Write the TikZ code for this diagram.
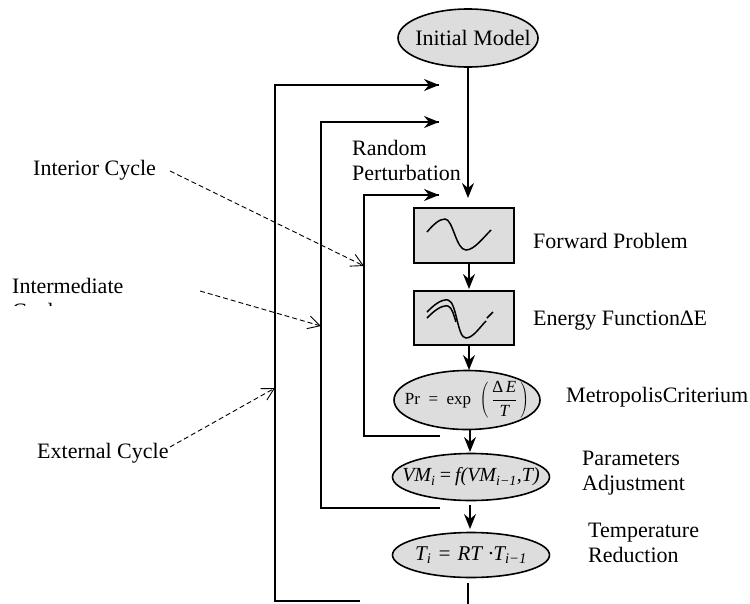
\documentclass[tikz,border=0pt]{standalone}
\usepackage{fontspec}
\setmainfont{Liberation Serif}
\usetikzlibrary{arrows.meta,shapes.geometric}
\newcommand\twoline[1]{\begin{tabular}[t]{@{}l@{}}#1\end{tabular}}
\newcommand\subi[1]{\textsubscript{\itshape #1}}
\definecolor{shade}{RGB}{221,221,221}
\begin{document}
\begin{tikzpicture}[x=1pt,y=-1pt,
  every node/.style={font=\fontsize{22}{25}\selectfont, inner sep=0pt},
  boxnode/.style={draw, line width=1.6pt, fill=shade, rectangle, minimum width=100pt, minimum height=55pt},
  ellnode/.style={draw, line width=1.6pt, fill=shade, ellipse, inner xsep=-25pt, inner ysep=-8pt},
  lbl/.style={anchor=base west},
  arr/.style={line width=1.8pt, -{Stealth[length=15pt,width=12pt,inset=5pt]}},
  loopline/.style={line width=1.8pt},
  dasharr/.style={line width=0.9pt, dash pattern=on 5pt off 3pt, -{Straight Barb[length=12pt,width=13pt]}},
  curve/.style={line width=1.5pt}]
\useasboundingbox (0,0) rectangle (750,603);
\fill[white] (0,0) rectangle (750,603);

% main column
\node[ellnode, minimum width=140pt, minimum height=58pt] (init) at (468,38) {\hspace*{10pt}Initial Model};
\node[boxnode] (fwd) at (464,235.5) {};
\node[boxnode, minimum height=54pt] (energy) at (464,318) {};
\node[ellnode, minimum width=146pt, minimum height=59pt] (metro) at (467,400)
  {\fontsize{17}{19}\selectfont Pr~~=~~exp~~$\displaystyle\left(\,\frac{\hbox{\fontsize{17}{19}\selectfont ∆\,\itshape E}}{\hbox{\fontsize{17}{19}\selectfont\itshape T}}\,\right)$};
\node[ellnode, minimum width=157pt, minimum height=47pt] (vm) at (471,477)
  {\fontsize{20}{22}\selectfont\itshape VM\subi{i}\kern3pt=\kern3pt f(VM\subi{i−1},T)};
\node[ellnode, minimum width=157pt, minimum height=45pt] (temp) at (471,555)
  {\fontsize{21}{23}\selectfont\itshape T\subi{i}\kern6pt=\kern6pt RT\kern6pt·T\subi{i−1}};

% curves in boxes
\draw[curve] (427,232) .. controls (433,225) and (439,219) .. (445,219)
  .. controls (453,219) and (456,250) .. (466,250) .. controls (474,250) and (483,238) .. (491,230);
\draw[curve] (427,312) .. controls (434,305) and (441,299) .. (448,300)
  .. controls (457,302) and (457,338) .. (466,338) .. controls (473,338) and (480,327) .. (486,321);
\draw[curve] (427,318) .. controls (434,311) and (441,305) .. (448,306)
  .. controls (452,307) and (454,316) .. (456,322);
\draw[curve] (487,318) -- (493,312);

% right labels
\node[lbl] (lfwd) at (533,248) {Forward Problem};
\node[lbl] (lenergy) at (533,325) {Energy Function∆E};
\node[lbl] (lmetro) at (566,402) {MetropolisCriterium};
\node[lbl] (lparam) at (582,465) {\twoline{Parameters\\Adjustment}};
\node[lbl] (ltemp) at (588,537) {\twoline{Temperature\\Reduction}};
\node[lbl] (lrand) at (352,155) {\twoline{Random\\Perturbation}};

% left labels
\node[lbl] (linterior) at (33,175) {Interior Cycle};
\begin{scope}
  \clip (0,0) rectangle (260,305);
  \node[lbl] (linter) at (12,293) {\twoline{Intermediate\\Cycle}};
\end{scope}
\node[lbl] (lexternal) at (37,458) {External Cycle};

% column arrows
\coordinate (initout) at (468,68);
\coordinate (fwdin) at (468,198);
\draw[arr] (initout) -- (fwdin);
\coordinate (fwdout) at (469,263);
\coordinate (energyin) at (469,289);
\draw[arr] (fwdout) -- (energyin);
\coordinate (energyout) at (469,345);
\coordinate (metroin) at (469,370);
\draw[arr] (energyout) -- (metroin);
\coordinate (metroout) at (470,430);
\coordinate (vmin) at (470,452);
\draw[arr] (metroout) -- (vmin);
\coordinate (vmout) at (470,505);
\coordinate (tempin) at (470,529);
\draw[arr] (vmout) -- (tempin);

% loops
\coordinate (inA) at (440,436);
\coordinate (inB) at (364,436);
\coordinate (inC) at (364,195);
\coordinate (inD) at (439,195);
\draw[loopline] (inA) -- (inB) -- (inC) -- (inD);
\draw[arr] (inC) -- (inD);

\coordinate (midA) at (440,508);
\coordinate (midB) at (321,508);
\coordinate (midC) at (321,122);
\coordinate (midD) at (439,122);
\draw[loopline] (midA) -- (midB) -- (midC) -- (midD);
\draw[arr] (midC) -- (midD);

\coordinate (tempout) at (468,583);
\coordinate (tempend) at (468,610);
\draw[loopline] (tempout) -- (tempend);
\coordinate (outA) at (360,601);
\coordinate (outB) at (275,601);
\coordinate (outC) at (275,85);
\coordinate (outD) at (439,85);
\draw[loopline] (outA) -- (outB) -- (outC) -- (outD);
\draw[arr] (outC) -- (outD);

% dashed pointers
\coordinate (interiorTip) at (364,266);
\draw[dasharr] (170,171) -- (interiorTip);
\coordinate (interTip) at (321,326);
\draw[dasharr] (200,291) -- (interTip);
\coordinate (externalTip) at (275,388);
\draw[dasharr] (170,447) -- (externalTip);
\end{tikzpicture}
\end{document}
